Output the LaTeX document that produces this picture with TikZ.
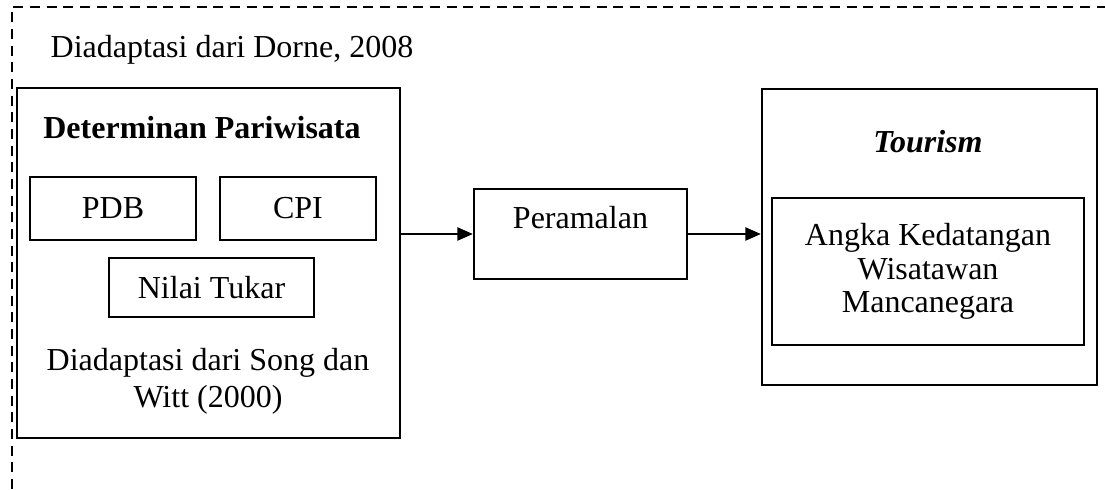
\documentclass[tikz,border=0pt]{standalone}
\usepackage{fontspec}
\setmainfont{Liberation Serif}
\usetikzlibrary{positioning,arrows.meta}
\tikzstyle{frame}=[draw,line width=1.9pt,inner sep=0pt]
\tikzstyle{item}=[draw,line width=0.8pt,inner sep=0pt,align=center]
\tikzstyle{caption}=[inner sep=0pt,align=center]
\tikzstyle{arr}=[line width=0.9pt,-{Triangle[length=11.5pt,width=10pt]}]

\begin{document}
\begin{tikzpicture}[x=0.75pt,y=-0.75pt,every node/.style={font=\fontsize{24}{25}\selectfont}]
            \useasboundingbox (0,0) rectangle (1105,489);
            % dashed outline (runs off the page)
            \coordinate (cb) at (12,489);
            \coordinate (ct) at (12,7);
            \coordinate (cr) at (1105,7);
            \draw[line width=1.8pt,dash pattern=on 7.5pt off 5pt]
                (cb) -- (ct) -- (cr)
                ;
            \node[caption] (dorne) at (232,50) {Diadaptasi dari Dorne, 2008};
            % left block
            \node[frame,minimum width=287.25pt,minimum height=262.5pt] (det) at (208.5,263) {};
            \node[caption] (dettitle) at (202,128) {\textbf{Determinan Pariwisata}};
            \node[item,minimum width=124.5pt,minimum height=47.25pt] (pdb) at (113,208.5) {PDB};
            \node[item,minimum width=117pt,minimum height=47.25pt] (cpi) at (298,208.5) {CPI};
            \node[item,minimum width=153.75pt,minimum height=44.25pt] (kurs) at (211.5,287.5) {Nilai Tukar};
            \node[caption] (song) at (208,381) {Diadaptasi dari Song dan\\[3pt] Witt (2000)};
            % middle block
            \node[frame,align=center,minimum width=159.75pt,minimum height=67.5pt] (ramal) at (580.5,234) {Peramalan\\\mbox{}};
            % right block
            \node[frame,minimum width=251.25pt,minimum height=222pt] (tour) at (929.5,237) {};
            \node[caption] (tourtitle) at (928,142) {\textbf{\textit{Tourism}}};
            \node[item,minimum width=234pt,minimum height=110.25pt] (angka) at (928,271.5) {\raisebox{3pt}{\parbox{230pt}{\centering Angka Kedatangan\\Wisatawan\\Mancanegara}}};
            % arrows
            \draw[arr] (ramal.west -| det.east) -- (ramal.west);
            \draw[arr] (ramal.east) -- (ramal.east -| tour.west);
        \end{tikzpicture}
\end{document}
